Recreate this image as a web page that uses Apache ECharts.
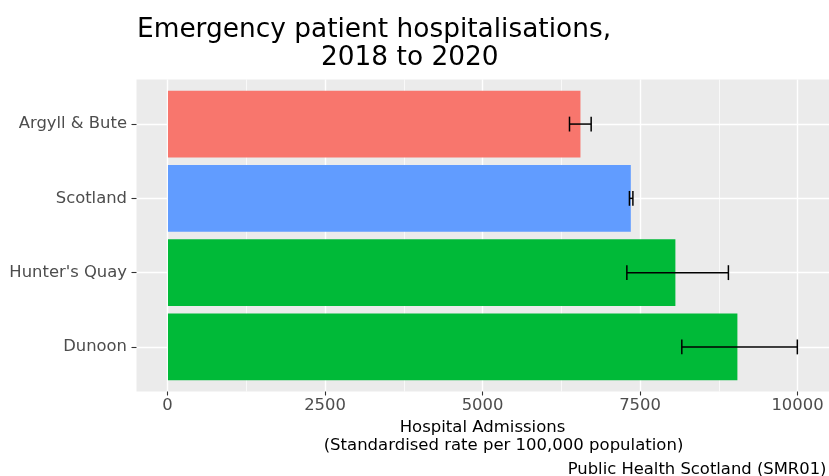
<!DOCTYPE html>
<html>
<head>
<meta charset="utf-8">
<script src="https://cdn.jsdelivr.net/npm/echarts@6/dist/echarts.min.js"></script>
<style>html,body{margin:0;padding:0;background:#fff}#c{width:829px;height:476px}</style>
</head>
<body>
<div id="c"></div>
<script>
// ---- data ----
const categories = ['Argyll & Bute', 'Scotland', "Hunter's Quay", 'Dunoon'];
const rates = [6552, 7352, 8060, 9045];
const lowerCI = [6378, 7330, 7289, 8162];
const upperCI = [6722, 7385, 8902, 9997];
const xTicks = [0, 2500, 5000, 7500, 10000];
const barColors = ['#F8766D', '#619CFF', '#00BA38', '#00BA38'];

const FONT = 'DejaVu Sans';
const chart = echarts.init(document.getElementById('c'), null, {renderer: 'canvas'});

const panelLeft = 136.5, panelTop = 79.5, panelH = 312, panelW = 692.5;
const band = panelH / (categories.length + 0.2);

chart.setOption({
  animation: false,
  textStyle: {fontFamily: FONT},
  title: [
    {text: 'Emergency patient hospitalisations,', left: 137, top: 17, padding: 0,
     textStyle: {fontSize: 26.4, fontWeight: 'normal', color: '#000', fontFamily: FONT}},
    {text: '2018 to 2020', left: 321, top: 45.5, padding: 0,
     textStyle: {fontSize: 26.4, fontWeight: 'normal', color: '#000', fontFamily: FONT}},
    {text: 'Public Health Scotland (SMR01)', right: 2.5, top: 461.5, padding: 0,
     textStyle: {fontSize: 16.4, fontWeight: 'normal', color: '#000', fontFamily: FONT}}
  ],
  grid: [
    // panel background
    {left: panelLeft, top: panelTop, width: panelW, height: panelH, show: true,
     backgroundColor: '#EBEBEB', borderWidth: 0, z: -5},
    // x gridlines & labels (0..10000)
    {left: 167.5, top: panelTop, width: 630, height: panelH},
    // bars
    {left: panelLeft, top: panelTop + 0.1 * band, width: panelW, height: band * categories.length}
  ],
  xAxis: [
    {gridIndex: 0, type: 'value', show: false},
    {gridIndex: 1, type: 'value', min: xTicks[0], max: xTicks[xTicks.length - 1], interval: 2500,
     axisLine: {show: false, onZero: false},
     axisTick: {show: true, length: 4, lineStyle: {color: '#333', width: 1.1}},
     axisLabel: {color: '#4D4D4D', fontSize: 16.4, margin: 6.5, fontFamily: FONT,
                 formatter: v => String(v)},
     splitLine: {show: true, lineStyle: {color: '#FFFFFF', width: 1.4}},
     minorTick: {show: false, splitNumber: 2},
     minorSplitLine: {show: true, lineStyle: {color: '#FFFFFF', width: 0.7}},
     name: 'Hospital Admissions\n        (Standardised rate per 100,000 population)',
     nameLocation: 'middle', nameGap: 24.5,
     nameTextStyle: {color: '#000', fontSize: 16.5, lineHeight: 18, fontFamily: FONT}},
    {gridIndex: 2, type: 'value', min: -500, max: 10500, show: false}
  ],
  yAxis: [
    {gridIndex: 0, type: 'value', show: false},
    {gridIndex: 1, type: 'value', show: false},
    {gridIndex: 2, type: 'category', data: categories, inverse: true,
     axisLine: {show: false, onZero: false},
     axisTick: {show: true, alignWithLabel: true, length: 5, lineStyle: {color: '#333', width: 1.1}},
     axisLabel: {color: '#4D4D4D', fontSize: 16.4, margin: 9.5, fontFamily: FONT},
     splitLine: {show: true, alignWithLabel: true, lineStyle: {color: '#FFFFFF', width: 1.4}}}
  ],
  series: [
    {type: 'bar', xAxisIndex: 2, yAxisIndex: 2, barWidth: '90%', z: 3,
     data: rates.map((v, i) => ({value: v, itemStyle: {color: barColors[i]}}))},
    {type: 'custom', xAxisIndex: 2, yAxisIndex: 2, z: 4,
     encode: {x: [0, 2], y: 1},
     data: categories.map((c, i) => [lowerCI[i], c, upperCI[i]]),
     renderItem: function (params, api) {
       const yi = api.value(1);
       const p1 = api.coord([api.value(0), yi]);
       const p2 = api.coord([api.value(2), yi]);
       const h = api.size([0, 1])[1] * 0.2 / 2;
       const st = {stroke: '#000', lineWidth: 1.5, fill: null};
       return {type: 'group', children: [
         {type: 'line', shape: {x1: p1[0], y1: p1[1], x2: p2[0], y2: p2[1]}, style: st},
         {type: 'line', shape: {x1: p1[0], y1: p1[1] - h, x2: p1[0], y2: p1[1] + h}, style: st},
         {type: 'line', shape: {x1: p2[0], y1: p2[1] - h, x2: p2[0], y2: p2[1] + h}, style: st}
       ]};
     }}
  ]
});
</script>
</body>
</html>
